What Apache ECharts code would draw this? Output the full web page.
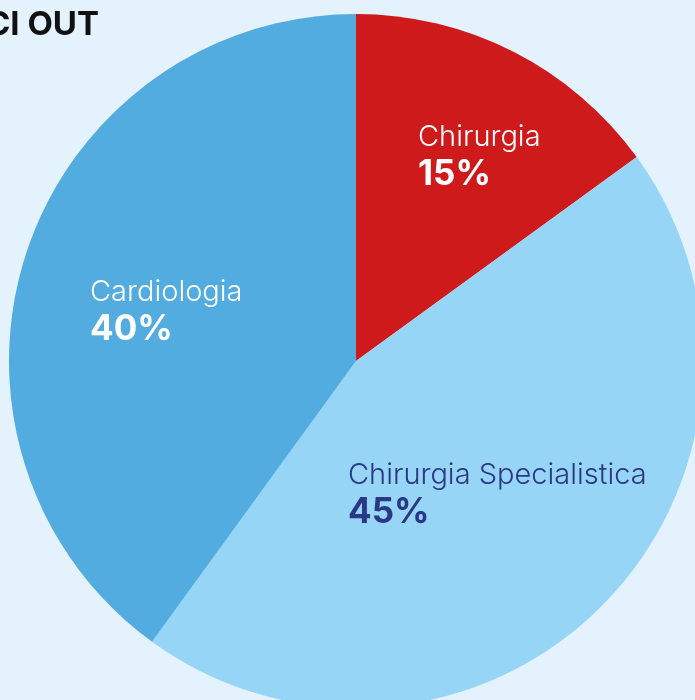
<!DOCTYPE html>
<html>
<head>
<meta charset="utf-8">
<script src="https://cdn.jsdelivr.net/npm/echarts@6/dist/echarts.min.js"></script>
<style>
  html, body { margin: 0; padding: 0; background: #e3f2fd; }
  #main { width: 695px; height: 700px; }
</style>
</head>
<body>
<div id="main"></div>
<script>
// dati della torta
var categories = ['Chirurgia', 'Chirurgia Specialistica', 'Cardiologia'];
var values = [15, 45, 40];
var colors = ['#cf1a1b', '#96d5f5', '#52ace0'];
var labelColors = ['#ffffff', '#2b3886', '#ffffff'];
// punto in alto a sinistra di ogni etichetta
var labelPos = [[418, 120], [348, 458], [90, 275]];

var pieData = [];
for (var i = 0; i < categories.length; i++) {
    pieData.push({
        name: categories[i],
        value: values[i],
        itemStyle: { color: colors[i] },
        label: {
            rich: {
                n: { fontSize: 29, lineHeight: 35, color: labelColors[i], fontFamily: 'Inter', fontWeight: 300 },
                v: { fontSize: 35, lineHeight: 38, color: labelColors[i], fontFamily: 'Inter', fontWeight: 'bold' }
            }
        }
    });
}

var myChart = echarts.init(document.getElementById('main'));
var option = {
    backgroundColor: '#e3f2fd',
    animation: false,
    graphic: [{
        type: 'text',
        right: 596,
        top: 9,
        style: {
            text: 'CI OUT',
            font: 'bold 33px Inter',
            fill: '#111111'
        }
    }],
    series: [{
        type: 'pie',
        center: [356, 361],
        radius: 347,
        startAngle: 90,
        clockwise: true,
        silent: true,
        itemStyle: { borderWidth: 0 },
        label: {
            show: true,
            position: 'inside',
            align: 'left',
            formatter: function (p) {
                return '{n|' + p.name + '}\n{v|' + p.value + '%}';
            }
        },
        labelLine: { show: false },
        labelLayout: function (params) {
            var pos = labelPos[params.dataIndex];
            return { x: pos[0], y: pos[1], align: 'left', verticalAlign: 'top' };
        },
        data: pieData
    }]
};
myChart.setOption(option);
</script>
</body>
</html>
